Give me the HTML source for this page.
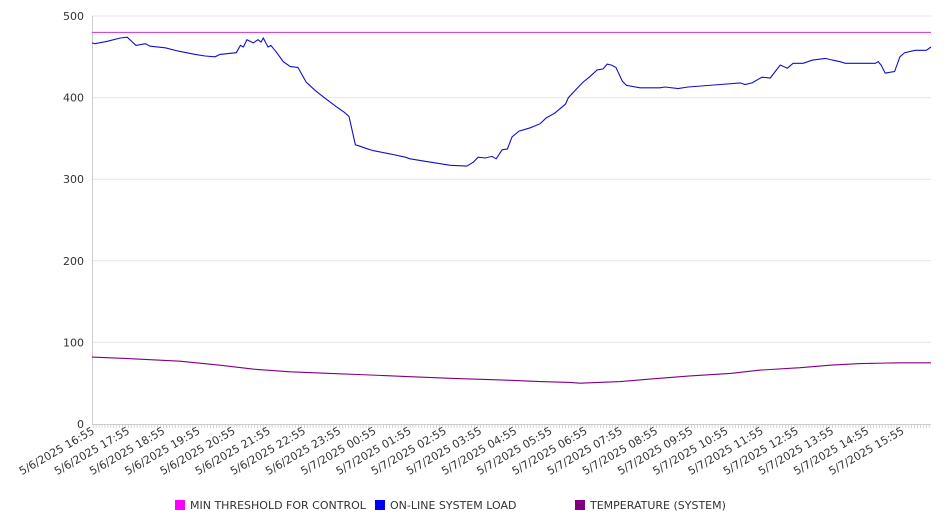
<!DOCTYPE html>
<html><head><meta charset="utf-8"><style>
body{margin:0;background:#fff;}
svg text{font-family:"DejaVu Sans","Liberation Sans",sans-serif;fill:#333;}
</style></head><body>
<svg id="chart" width="946" height="526" xmlns="http://www.w3.org/2000/svg">
<g id="grid"></g>
<g id="yaxis"></g>
<g id="xaxis"></g>
<g id="series"></g>
<g font-size="11">
<rect x="175" y="500" width="10" height="10" fill="#ff00ff"/>
<text x="190" y="509" font-size="11">MIN THRESHOLD FOR CONTROL</text>
<rect x="375" y="500" width="10" height="10" fill="#0000ff"/>
<text x="390" y="509" font-size="11">ON-LINE SYSTEM LOAD</text>
<rect x="575" y="500" width="10" height="10" fill="#800080"/>
<text x="590" y="509" font-size="11">TEMPERATURE (SYSTEM)</text>
</g>
</svg>
<script>
const yTicks=[0,100,200,300,400,500];
const xLabels=["5/6/2025 16:55","5/6/2025 17:55","5/6/2025 18:55","5/6/2025 19:55","5/6/2025 20:55","5/6/2025 21:55","5/6/2025 22:55","5/6/2025 23:55","5/7/2025 00:55","5/7/2025 01:55","5/7/2025 02:55","5/7/2025 03:55","5/7/2025 04:55","5/7/2025 05:55","5/7/2025 06:55","5/7/2025 07:55","5/7/2025 08:55","5/7/2025 09:55","5/7/2025 10:55","5/7/2025 11:55","5/7/2025 12:55","5/7/2025 13:55","5/7/2025 14:55","5/7/2025 15:55"];
const threshold=480;
const loadTimes=[-2,3,24,46,58,73,89,97,123,145,174,191,208,216,244,251,256,262,273,281,286,290,298,303,312,324,336,349,363,378,392,414,428,436,447,452,464,477,506,532,540,574,609,637,648,656,668,680,687,697,706,714,726,745,762,772,787,805,810,827,835,847,859,869,876,883,891,902,909,932,966,975,997,1014,1069,1103,1111,1123,1140,1154,1171,1183,1193,1210,1226,1248,1260,1273,1282,1302,1333,1338,1343,1350,1366,1375,1383,1401,1420,1428];
const loadValues=[467,466,469,473,474,464,466,463,461,457,453,451,450,453,455,464,462,471,467,471,468,473,462,464,456,444,438,437,419,409,401,389,382,377,342,341,338,335,331,327,325,321,317,316,321,327,326,328,325,336,337,352,359,363,368,375,381,392,400,413,419,426,434,435,441,440,437,420,415,412,412,413,411,413,416,418,416,418,425,424,440,436,442,442,446,448,446,444,442,442,442,444,440,430,432,450,455,458,458,462];
const tempTimes=[-2,63,148,216,276,336,404,472,540,609,694,762,813,830,898,949,1017,1086,1137,1205,1256,1307,1375,1428];
const tempValues=[82,80,77,72,67,64,62,60,58,56,54,52,51,50,52,55,59,62,66,69,72,74,75,75];

const NS="http://www.w3.org/2000/svg";
const X0=92,X1=931,T0=-2,T1=1428,Y0=424,Y1=16;
const sx=t=>X0+(t-T0)/(T1-T0)*(X1-X0);
const sy=v=>Y0-(v/500)*(Y0-Y1);
function mk(tag,attrs,parent){const e=document.createElementNS(NS,tag);for(const k in attrs)e.setAttribute(k,attrs[k]);parent.appendChild(e);return e;}
const grid=document.getElementById('grid'),yaxis=document.getElementById('yaxis'),xaxis=document.getElementById('xaxis'),series=document.getElementById('series');
yTicks.forEach(v=>{
  if(v>0){const l=mk('line',{x1:X0,x2:X1,y1:sy(v),y2:sy(v),stroke:'#e6e6e6','stroke-width':1},grid);
  
  }
  const t=mk('text',{x:84,y:sy(v)+4,'text-anchor':'end','font-size':11},yaxis);
  
  
  t.textContent=v;
});
const ya=mk('line',{x1:X0+0.5,x2:X0+0.5,y1:Y1,y2:Y0,stroke:'#ccc'},yaxis);


const xa=mk('line',{x1:X0,x2:X1,y1:Y0+0.5,y2:Y0+0.5,stroke:'#ccc'},xaxis);


for(let m=0;m<=T1;m+=5){const tk=mk('line',{x1:sx(m),x2:sx(m),y1:Y0,y2:Y0+4,stroke:'#ccc','stroke-width':0.8},xaxis);
  
  }
xLabels.forEach((s,i)=>{
  const x=sx(i*60)+2,y=433;
  const t=mk('text',{x:x,y:y,'text-anchor':'end','font-size':11,transform:`rotate(-30 ${x} ${y})`},xaxis);
  
  
  t.textContent=s;
});
const th=mk('line',{x1:X0,x2:X1,y1:sy(threshold),y2:sy(threshold),stroke:'#cc33cc','stroke-width':1},series);


function path(ts,vs,color,name){
  const d=ts.map((t,i)=>(i?'L':'M')+sx(t).toFixed(1)+','+sy(vs[i]).toFixed(1)).join('');
  const p=mk('path',{d:d,fill:'none',stroke:color,'stroke-width':1.1},series);
  
  
}
path(loadTimes,loadValues,'#1010cc','load-line');
path(tempTimes,tempValues,'#800080','temperature-line');
</script>
</body></html>
